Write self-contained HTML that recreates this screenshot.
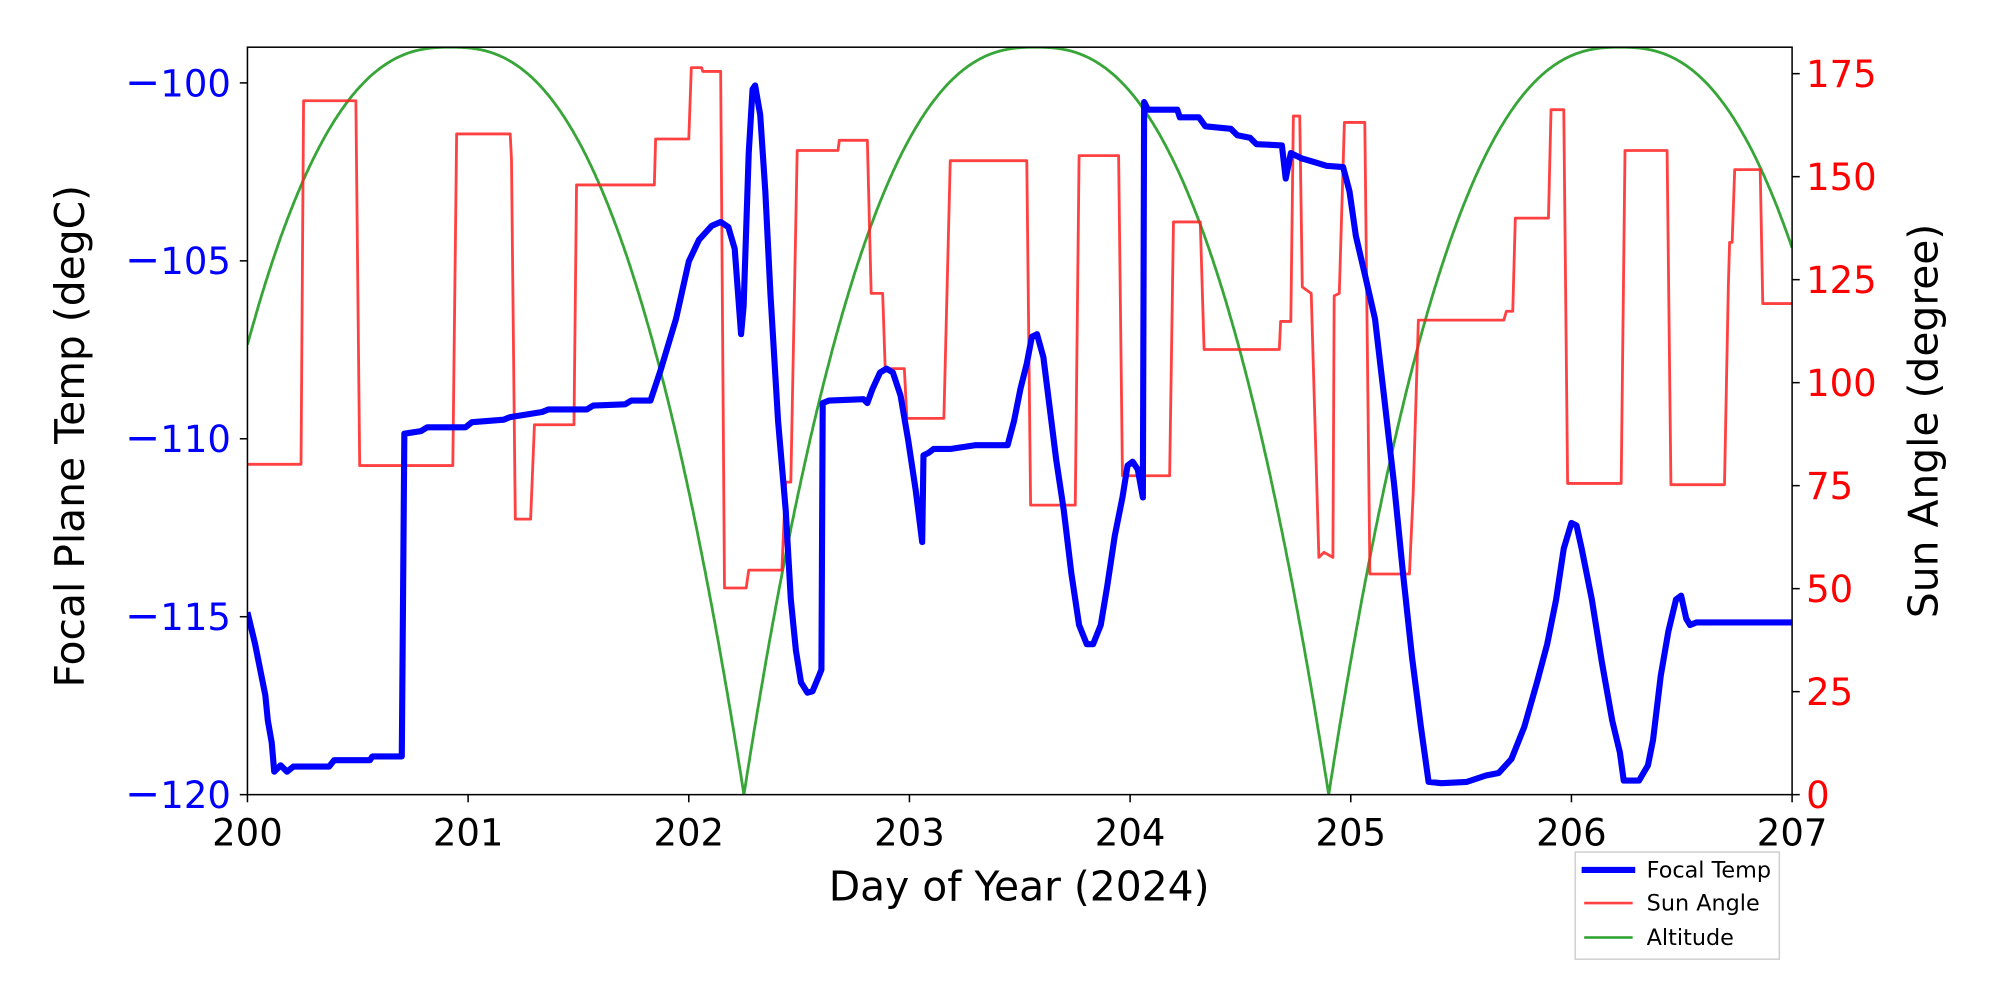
<!DOCTYPE html>
<html><head><meta charset="utf-8"><style>
html,body{margin:0;padding:0;background:#fff}
svg{display:block}
text{font-family:"DejaVu Sans","Liberation Sans",sans-serif}
</style></head><body>
<svg id="s" width="2000" height="1000" viewBox="0 0 1568 784" xmlns="http://www.w3.org/2000/svg">
<defs><clipPath id="c"><rect x="194" y="37" width="1211" height="586"/></clipPath></defs>
<rect width="1568" height="784" fill="#fff"/>
<g clip-path="url(#c)">
<path id="green" fill="none" stroke="#2ca02c" stroke-width="2.2" stroke-opacity="0.95"/>
<polyline fill="none" stroke="#ff2020" stroke-opacity="0.85" stroke-width="2.2" stroke-linejoin="round" points="194,364 236,364 238,79 279,79 282,365 355,365 358,105 400,105 401,125 404,407 416,407 419,333 450,333 452,145 513,145 514,109 540,109 542,53 550,53 551,56 565,56 568,461 585,461 587,447 613,447 616,378 620,378 625,118 657,118 658,110 680,110 683,230 692,230 694,289 709,289 711,328 740,328 745,126 805,126 808,396 843,396 846,122 877,122 880,373 917,373 920,174 941,174 944,274 1003,274 1004,252 1012,252 1014,91 1019,91 1021,225 1028,230 1034,437 1038,433 1045,437 1046,232 1050,230 1054,96 1070,96 1074,450 1105,450 1108,385 1112,251 1179,251 1181,244 1186,244 1188,171 1214,171 1216,86 1226,86 1229,379 1271,379 1274,118 1307,118 1310,380 1352,380 1355,225 1356,190 1358,190 1360,133 1380,133 1382,238 1405,238"/>
<polyline fill="none" stroke="#0000ff" stroke-width="4.8" stroke-linejoin="round" points="194,480 200,505 208,545 210,565 213,582 215,605 220,600 225,605 230,601 258,601 262,596 290,596 292,593 315,593 317,340 330,338 335,335 365,335 370,331 395,329 400,327 425,323 430,321 460,321 465,318 490,317 495,314 510,314 518,290 530,250 540,205 548,188 558,177 565,174 571,178 576,195 581,262 583,240 587,120 590,70 592,67 596,90 600,150 604,230 610,330 616,400 620,470 624,510 628,535 633,543 637,542 642,530 644,525 645,316 650,314 677,313 680,316 684,305 690,292 695,289 700,292 706,310 712,345 718,385 723,425 724,357 728,355 732,352 745,352 765,349 790,349 795,330 800,305 805,285 809,264 813,262 818,280 823,320 828,360 834,400 840,450 846,490 852,505 857,505 863,490 868,460 874,420 880,390 884,365 888,362 892,368 896,390 897,80 900,86 923,86 925,92 940,92 945,99 965,101 970,106 980,108 985,113 1005,114 1008,140 1012,120 1020,124 1030,127 1040,130 1053,131 1058,150 1063,185 1070,215 1078,250 1085,310 1093,380 1100,450 1107,515 1114,570 1120,613 1130,614 1150,613 1165,608 1175,606 1185,595 1195,570 1205,535 1213,505 1220,470 1226,430 1232,410 1236,412 1240,430 1248,470 1256,520 1264,565 1270,590 1273,612 1285,612 1292,600 1296,580 1302,530 1308,495 1314,470 1318,467 1322,485 1325,490 1330,488 1405,488"/>
</g>
<rect x="194" y="37" width="1211" height="586" fill="none" stroke="#000" stroke-width="1.2"/>
<g id="ticks" stroke="#000" stroke-width="1.2"></g>
<g id="labels" font-size="29"></g>
<text x="799" y="706" font-size="32" text-anchor="middle">Day of Year (2024)</text>
<text transform="translate(66,342) rotate(-90)" font-size="32" text-anchor="middle">Focal Plane Temp (degC)</text>
<text transform="translate(1519,330) rotate(-90)" font-size="32" text-anchor="middle">Sun Angle (degree)</text>
<rect x="1235" y="668" width="160" height="84" fill="#fff" stroke="#d0d0d0" stroke-width="1.2"/>
<line x1="1240" y1="682" x2="1282" y2="682" stroke="#0000ff" stroke-width="4.8"/>
<line x1="1242" y1="708" x2="1280" y2="708" stroke="#ff2020" stroke-opacity="0.85" stroke-width="2"/>
<line x1="1242" y1="735" x2="1280" y2="735" stroke="#2ca02c" stroke-width="2"/>
<text x="1291" y="688" font-size="17.5">Focal Temp</text>
<text x="1291" y="714" font-size="17.5">Sun Angle</text>
<text x="1291" y="741" font-size="17.5">Altitude</text>
</svg>
<script>
var X=function(d){return 194+(d-200)*173;};
var pts=[],peaks=[200.92,203.57,206.22],zeros=[199.59,202.25,204.9,207.54];
for(var d=200;d<=207.001;d+=0.005){
 var p=peaks[0];for(var i=0;i<3;i++)if(Math.abs(d-peaks[i])<Math.abs(d-p))p=peaks[i];
 var z=d<p?Math.max.apply(null,zeros.filter(function(v){return v<p;})):Math.min.apply(null,zeros.filter(function(v){return v>p;}));
 var x=Math.min(1,Math.abs(d-p)/Math.abs(z-p));
 var f=1-Math.pow(x,2.5);
 pts.push((pts.length?"L":"M")+X(d).toFixed(1)+","+(623-586*f).toFixed(1));
}
document.getElementById("green").setAttribute("d",pts.join(""));
var t="",l="";
for(var k=0;k<=7;k++){var x=X(200+k);t+='<line x1="'+x+'" y1="623" x2="'+x+'" y2="629"/>';l+='<text x="'+x+'" y="663" text-anchor="middle">'+(200+k)+'</text>';}
for(var k=0;k<=4;k++){var v=-100-5*k,y=623-(v+120)*27.9;t+='<line x1="188" y1="'+y+'" x2="194" y2="'+y+'"/>';l+='<text x="181" y="'+(y+10.5)+'" text-anchor="end" fill="#0000ff"><tspan font-size="33">\u2212</tspan>'+(100+5*k)+'</text>';}
for(var k=0;k<=7;k++){var v=25*k,y=623-v*3.23;t+='<line x1="1405" y1="'+y+'" x2="1411" y2="'+y+'"/>';l+='<text x="1416" y="'+(y+10.5)+'" fill="#ff0000">'+v+'</text>';}
document.getElementById("ticks").innerHTML=t;document.getElementById("labels").innerHTML=l;
</script>
</body></html>
